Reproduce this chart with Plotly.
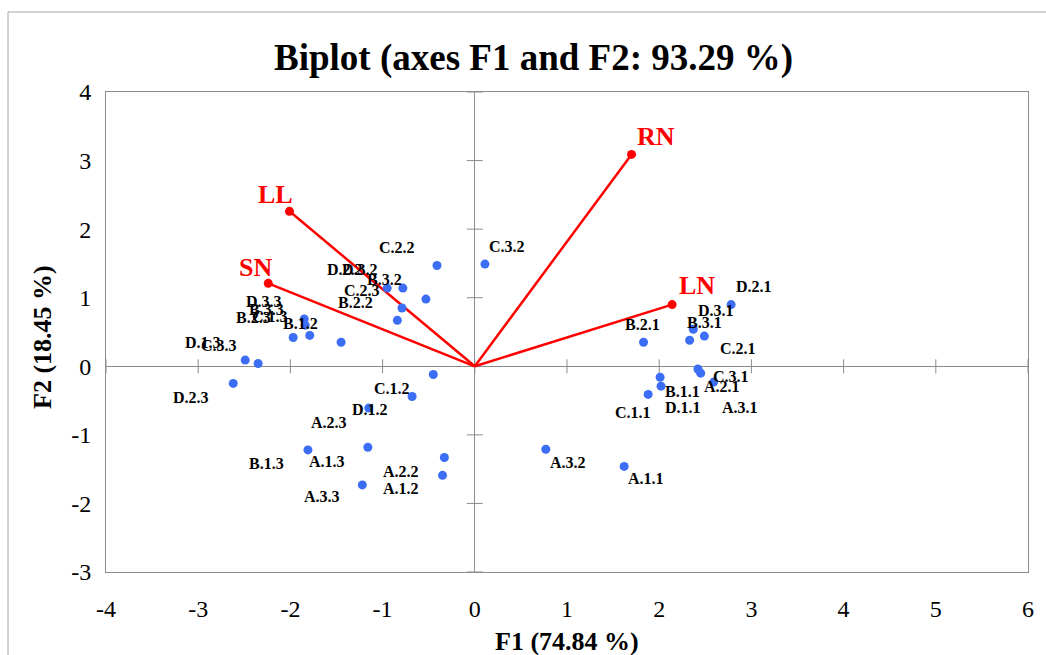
import plotly.graph_objects as go

# ---------------- data ----------------
obs_labels = ["D.2.1", "D.3.1", "B.3.1", "C.2.1", "B.2.1", "A.2.1", "A.3.1", "C.3.1",
              "B.1.1", "D.1.1", "C.1.1", "A.3.2", "A.1.1", "C.3.2", "C.2.2", "D.2.2",
              "D.3.2", "B.3.2", "C.2.3", "B.2.2", "D.3.3", "B.3.3", "B.2.3", "C.1.3",
              "B.1.2", "D.1.3", "C.3.3", "D.2.3", "C.1.2", "D.1.2", "A.2.3", "A.1.3",
              "B.1.3", "A.2.2", "A.1.2", "A.3.3"]
obs_f1 = [2.78, 2.37, 2.33, 2.49, 1.83, 2.42, 2.45, 2.59,
          2.01, 2.02, 1.88, 0.77, 1.62, 0.11, -0.41, -0.95,
          -0.78, -0.53, -0.79, -0.84, -1.85, -1.84, -1.97, -1.79,
          -1.45, -2.49, -2.35, -2.62, -0.45, -0.68, -1.15, -1.16,
          -1.81, -0.33, -0.35, -1.22]
obs_f2 = [0.90, 0.54, 0.38, 0.44, 0.35, -0.04, -0.10, -0.23,
          -0.16, -0.29, -0.41, -1.21, -1.46, 1.49, 1.47, 1.14,
          1.14, 0.98, 0.85, 0.67, 0.69, 0.60, 0.42, 0.45,
          0.35, 0.09, 0.04, -0.25, -0.12, -0.44, -0.61, -1.18,
          -1.22, -1.33, -1.59, -1.73]

var_names = ["RN", "LL", "SN", "LN"]
var_f1 = [1.70, -2.01, -2.24, 2.14]
var_f2 = [3.09, 2.26, 1.21, 0.90]

x_ticks = [-4, -3, -2, -1, 0, 1, 2, 3, 4, 5, 6]
y_ticks = [-3, -2, -1, 0, 1, 2, 3, 4]
x_tick_text = ["-4", "-3", "-2", "-1", "0", "1", "2", "3", "4", "5", "6"]
y_tick_text = ["-3", "-2", "-1", "0", "1", "2", "3", "4"]

title_text = "Biplot (axes F1 and F2: 93.29 %)"
x_title = "F1 (74.84 %)"
y_title = "F2 (18.45 %)"

# ---------------- label placement (pixel offsets, right/down positive) ----------------
obs_dx = [23, 23, 15, 34, -1, 24, 39, 17,
          22, 22, -15, 22, 22, 22, -40, -42,
          -43, -41, -40, -42, -40, -39, -40, -40,
          -41, -42, -39, -42, -41, -42, -40, -41,
          -41, -43, -42, -40]
obs_dy = [-18, -19, -18, 12, -18, 17, 34, -6,
          14, 21, 18, 13, 12, -18, -18, -19,
          -19, -20, -18, -18, -17, -16, -20, -19,
          -19, -18, -18, 14, 14, 13, 14, 14,
          14, 14, 13, 12]
var_dx = [24, -14, -13, 25]
var_dy = [-18, -17, -16, -19]

# ---------------- styles ----------------
FONT = "Liberation Serif"
BLUE = "#3b6ef5"
RED = "#ff0000"
GRAY = "#8c8c8c"
W, H = 1046, 655
ML, MR, MT, MB = 106, 18, 92, 83
xr = [x_ticks[0], x_ticks[-1]]
yr = [y_ticks[0], y_ticks[-1]]
pw, ph = W - ML - MR, H - MT - MB
ux = (xr[1] - xr[0]) / pw   # data units per pixel
uy = (yr[1] - yr[0]) / ph

fig = go.Figure()

# cross tick marks on the zero axes
tx, ty = [], []
for v in x_ticks:
    tx += [v, v, None]
    ty += [-7 * uy, 7 * uy, None]
for v in y_ticks:
    tx += [-8 * ux, 8 * ux, None]
    ty += [v, v, None]
fig.add_trace(go.Scatter(x=tx, y=ty, mode="lines", line=dict(color=GRAY, width=1),
                         hoverinfo="skip", showlegend=False))

# variable vectors
for n, x, y in zip(var_names, var_f1, var_f2):
    fig.add_trace(go.Scatter(x=[0, x], y=[0, y], mode="lines",
                             line=dict(color=RED, width=2.5), showlegend=False))
fig.add_trace(go.Scatter(x=var_f1, y=var_f2, mode="markers",
                         marker=dict(color=RED, size=9), showlegend=False))

# observations
fig.add_trace(go.Scatter(x=obs_f1, y=obs_f2, mode="markers",
                         marker=dict(color=BLUE, size=9), text=obs_labels,
                         showlegend=False))

ann = []
for lab, x, y, dx, dy in zip(obs_labels, obs_f1, obs_f2, obs_dx, obs_dy):
    ann.append(dict(x=x, y=y, xref="x", yref="y", text="<b>%s</b>" % lab, showarrow=False,
                    xshift=dx, yshift=-dy, font=dict(family=FONT, size=16, color="black")))
for lab, x, y, dx, dy in zip(var_names, var_f1, var_f2, var_dx, var_dy):
    ann.append(dict(x=x, y=y, xref="x", yref="y", text="<b>%s</b>" % lab, showarrow=False,
                    xshift=dx, yshift=-dy, font=dict(family=FONT, size=26, color=RED)))

# titles
ann.append(dict(x=(533 - ML) / pw, y=(MT + ph - 58) / ph, xref="paper", yref="paper",
                text="<b>%s</b>" % title_text, showarrow=False, xanchor="center", yanchor="middle",
                font=dict(family=FONT, size=37, color="black")))
ann.append(dict(x=0.5, y=(MT + ph - 641) / ph, xref="paper", yref="paper",
                text="<b>%s</b>" % x_title, showarrow=False, xanchor="center", yanchor="middle",
                font=dict(family=FONT, size=26, color="black")))
ann.append(dict(x=(42 - ML) / pw, y=(MT + ph - 337) / ph, xref="paper", yref="paper",
                text="<b>%s</b>" % y_title, showarrow=False, xanchor="center", yanchor="middle",
                textangle=-90, font=dict(family=FONT, size=26, color="black")))

axis_common = dict(showgrid=False, showline=True, mirror=True, linecolor=GRAY, linewidth=1,
                   zeroline=True, zerolinecolor=GRAY, zerolinewidth=1, ticks="",
                   tickfont=dict(family=FONT, size=24, color="black"), layer="below traces")

fig.update_layout(
    width=W, height=H, margin=dict(l=ML, r=MR, t=MT, b=MB),
    paper_bgcolor="white", plot_bgcolor="white",
    xaxis=dict(range=xr, tickvals=x_ticks, ticktext=x_tick_text, ticklabelstandoff=15,
               **axis_common),
    yaxis=dict(range=yr, tickvals=y_ticks, ticktext=y_tick_text, ticklabelstandoff=9,
               **axis_common),
    annotations=ann,
    shapes=[dict(type="rect", xref="paper", yref="paper",
                 x0=(8 - ML) / pw, x1=1.2, y0=-0.5, y1=(MT + ph - 12) / ph,
                 line=dict(color="#a6a6a6", width=1), fillcolor="rgba(0,0,0,0)", layer="below")],
    showlegend=False,
)

fig.write_html("out.html")
